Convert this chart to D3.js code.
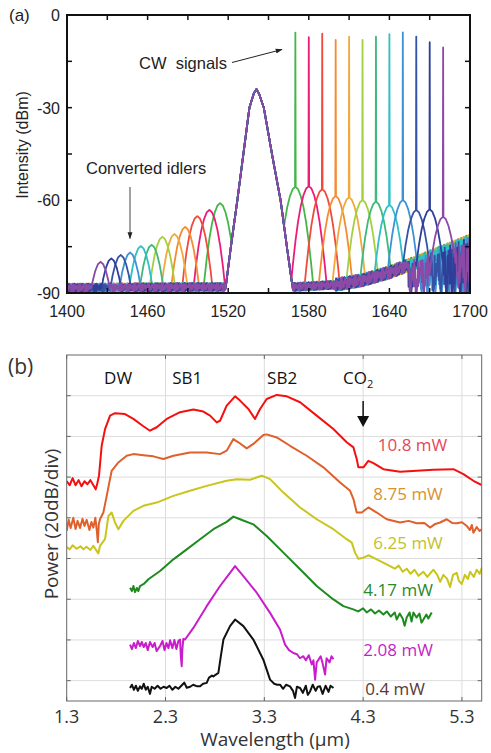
<!DOCTYPE html>
<html><head><meta charset="utf-8">
<script src="https://cdn.jsdelivr.net/npm/d3@7"></script>
<style>body{margin:0;background:#fff;} svg{display:block;}</style>
</head><body>
<svg id="chart" width="491" height="753"></svg>
<script>
// ================= Panel (a) data =================
const aColors = ["#44b649","#ec1c79","#f04a3c","#f58b31","#f2a93b","#a6cf3f","#3fb87a","#2ebfc7","#3f91d6","#3553a4","#2e3e99","#8a4aa5"];
const signalWl   = [1570,1580,1590,1600,1610,1620,1630,1640,1650,1660,1670,1680];
const signalPeak = [-5.7,-7.2,-6.0,-8.1,-7.0,-8.1,-7.0,-6.2,-5.6,-7.0,-8.8,-10.5];
const signalHump = [-55.6,-55.4,-56.4,-58.6,-59.0,-59.9,-60.4,-61.5,-59.9,-63.1,-62.9,-65.3];
const idlerWl    = [1514,1506,1497,1488,1480,1471,1463,1455,1447,1440,1433,1425];
const idlerPeak  = [-60.9,-63.1,-65.1,-68.6,-70.9,-71.8,-74.4,-74.8,-76.9,-77.7,-78.8,-79.9];
const pumpProfile = [[1517.6,-90],[1522,-75],[1526.8,-60],[1531,-46],[1535.8,-30],[1539,-25.5],[1541,-24],[1543,-25.5],[1546.5,-30],[1553,-46],[1559,-60],[1564,-76],[1568.5,-90]];
const peakDrop = [[0,0],[2,0.8],[4,3],[6,6.5],[8,11.5],[10,18],[12,26],[14,35],[17,50],[40,120]];
const floorProfile = [[1400,-88.3],[1500,-88],[1570,-88],[1600,-87.3],[1620,-85.8],[1640,-83.3],[1660,-80],[1680,-76.5],[1700,-73]];
const floorJitter = [0.3,-0.8,0.6,-0.2,0.9,-0.5,0.1,-1,0.7,-0.3,0.4,-0.9,0.2,0.8,-0.6,-0.1,0.5,-0.7,1,-0.4,0.0,0.6,-0.8,0.3,-0.2,0.9,-0.6,0.4,-1,0.7,-0.3,0.1,0.8,-0.5,0.2,-0.9,0.6,-0.1,0.4,-0.7,0.5];
const aXTicks = [1400,1460,1520,1580,1640,1700];
const aXMinor = [1430,1490,1550,1610,1670];
const aYTicks = [0,-30,-60,-90];
const aYMinor = [-15,-45,-75];

// ================= Panel (b) data =================
const bXTicks = [1.3,2.3,3.3,4.3,5.3];
const bYGrid = [0,20,40,60,80,100,120,140];
const bLabels = ["10.8 mW","8.75 mW","6.25 mW","4.17 mW","2.08 mW","0.4 mW"];
const bColors = ["#f50f0f","#e0602c","#c9c51a","#1f8a1f","#c91ccc","#111111"];
const bLabelColors = ["#e4485a","#d9922e","#c3c22a","#2a8a2a","#c21fc6","#5a3838"];
const trace10_8 = [[1.30,98],[1.33,96],[1.36,99.5],[1.39,96],[1.42,98.5],[1.45,95.5],[1.48,98],[1.51,96.5],[1.54,98.5],[1.57,96],[1.594,94],[1.61,97],[1.627,100.7],[1.654,115.4],[1.688,123.6],[1.739,130.2],[1.789,131.4],[1.89,131],[1.975,128.6],[2.076,125],[2.143,122.8],[2.211,124.5],[2.312,128.6],[2.447,131.9],[2.582,133.2],[2.683,132.2],[2.751,130.2],[2.818,126.9],[2.852,127.7],[2.919,135.1],[3.004,139.7],[3.054,137.6],[3.139,133.5],[3.206,128.6],[3.257,133.5],[3.324,138.4],[3.426,140.4],[3.527,139.7],[3.662,136.8],[3.83,130.2],[3.999,123.6],[4.134,117.1],[4.202,114.6],[4.235,108.9],[4.252,104.8],[4.303,104.8],[4.353,108],[4.404,106.9],[4.505,103.9],[4.674,102.6],[4.842,103.1],[5.011,103.6],[5.214,103.9],[5.315,101.5],[5.416,98.2],[5.50,96.1]];
const trace8_75 = [[1.30,73.6],[1.32,79],[1.34,75],[1.367,80],[1.39,74.5],[1.41,78.5],[1.435,75],[1.46,79.5],[1.48,76],[1.502,79],[1.53,74],[1.55,78],[1.57,75.2],[1.59,80],[1.604,74],[1.615,68],[1.625,77],[1.637,79.3],[1.671,82.6],[1.705,90.8],[1.755,103.1],[1.823,107.2],[1.907,110.5],[1.975,111.3],[2.076,110.8],[2.177,110.2],[2.278,108.9],[2.38,110.5],[2.548,112.1],[2.717,112.1],[2.852,111.3],[2.919,113],[2.987,118.7],[3.037,117.1],[3.122,114.1],[3.189,116.3],[3.29,120.7],[3.324,121],[3.426,119.5],[3.56,115.4],[3.729,110.5],[3.898,104.8],[4.067,97.4],[4.168,93.3],[4.202,89.2],[4.235,82.6],[4.286,82.6],[4.353,85.1],[4.438,82.6],[4.539,79.3],[4.674,77.7],[4.76,78.5],[4.842,77.3],[4.92,77.5],[4.977,75.2],[5.03,77],[5.079,77.7],[5.146,79.3],[5.2,77.5],[5.247,77.3],[5.30,77.8],[5.349,76],[5.38,74],[5.40,76.5],[5.416,72.7],[5.45,75.5],[5.48,73.5],[5.50,74.4]];
const trace6_25 = [[1.30,65.7],[1.33,64.5],[1.36,66.5],[1.40,64.8],[1.44,66],[1.47,64.5],[1.50,65.8],[1.54,64.2],[1.57,66.3],[1.60,64],[1.62,62.5],[1.637,66.2],[1.688,69.5],[1.722,80.9],[1.755,82.6],[1.789,77.7],[1.823,74.4],[1.874,78.5],[1.975,83.4],[2.076,85.9],[2.211,87.5],[2.38,90.8],[2.548,93.3],[2.717,95.7],[2.919,98.2],[3.021,99],[3.156,98.7],[3.274,100.7],[3.358,99],[3.493,92.4],[3.662,85.1],[3.83,79.3],[3.999,74.4],[4.134,69.5],[4.185,67.8],[4.218,62.9],[4.252,59.9],[4.303,60.4],[4.353,61.6],[4.438,59.6],[4.573,56.3],[4.62,55],[4.66,56.5],[4.70,53.5],[4.741,55],[4.78,52.5],[4.82,54.5],[4.86,51.5],[4.91,53.5],[4.95,51],[5.011,54.5],[5.05,52],[5.08,48.5],[5.112,52],[5.15,50],[5.18,46],[5.21,52],[5.247,53],[5.27,49],[5.298,47.5],[5.33,52],[5.36,50],[5.383,53.5],[5.42,51],[5.45,54.5],[5.48,52.5],[5.50,55.5]];
const trace4_17 = [[1.941,45.6],[1.96,44],[1.975,46.5],[1.992,43.5],[2.01,45.5],[2.025,44],[2.042,46.5],[2.08,47.5],[2.127,49.8],[2.245,53.9],[2.38,59.6],[2.515,64.5],[2.65,69.5],[2.785,74.4],[2.919,78],[2.987,80.6],[3.054,79.3],[3.189,76.8],[3.324,71.1],[3.493,62.9],[3.662,54.7],[3.83,46.5],[3.999,39.9],[4.1,36.6],[4.2,35],[4.25,34],[4.30,35.5],[4.336,33.5],[4.38,35],[4.42,33],[4.46,34.5],[4.505,32.5],[4.54,34],[4.58,31.5],[4.62,33.5],[4.64,30],[4.67,33],[4.70,30.5],[4.72,27],[4.741,31],[4.77,33.5],[4.79,29],[4.809,33.5],[4.84,31],[4.87,33],[4.89,28.5],[4.91,30],[4.94,32.5],[4.96,30.5],[4.994,33.5]];
const trace2_08 = [[1.941,17.7],[1.96,15.5],[1.98,18.5],[2.0,16],[2.02,19.5],[2.042,17],[2.06,19],[2.08,16.5],[2.10,18.5],[2.12,15],[2.143,19],[2.17,16.5],[2.19,18.5],[2.21,14.5],[2.245,17],[2.27,19.5],[2.29,15],[2.31,18.5],[2.33,16],[2.346,19.8],[2.37,16],[2.39,20],[2.41,15.5],[2.43,19.5],[2.447,20.2],[2.455,12],[2.464,7.1],[2.47,15],[2.48,20.5],[2.498,20.2],[2.582,25.9],[2.717,36.6],[2.852,46.5],[2.953,53],[3.004,56.3],[3.088,51.4],[3.223,43.2],[3.358,33.3],[3.459,25.1],[3.51,17.7],[3.55,15],[3.594,13.6],[3.63,13],[3.66,11],[3.695,12],[3.72,10],[3.75,12.5],[3.78,8],[3.797,10],[3.814,0.5],[3.83,9],[3.848,10.3],[3.87,12],[3.89,8.5],[3.915,3],[3.93,11],[3.96,9],[3.98,12],[4.0,10.5]];
const trace0_4 = [[1.941,-3.6],[1.96,-2],[1.98,-4.5],[2.0,-2.5],[2.02,-5],[2.042,-2.8],[2.06,-4],[2.08,-1.5],[2.10,-4.5],[2.12,-3],[2.143,-6.5],[2.16,-3],[2.19,-4],[2.22,-2.5],[2.25,-4],[2.28,-3],[2.312,-3.6],[2.34,-2.5],[2.37,-4.5],[2.40,-3],[2.43,-4],[2.46,-2.5],[2.49,-1],[2.515,-3.5],[2.55,-3],[2.58,-2],[2.62,-2.8],[2.65,-2.8],[2.68,-1.5],[2.717,-1.1],[2.74,1.5],[2.77,2.5],[2.785,2.1],[2.81,3],[2.835,3.8],[2.86,12],[2.886,20.2],[2.953,26.8],[3.004,30],[3.088,26.8],[3.189,20.2],[3.29,10.3],[3.358,0.5],[3.40,-1.5],[3.43,-2],[3.459,-2],[3.49,-4],[3.52,-2],[3.56,-2.8],[3.59,-5],[3.611,-8.5],[3.63,-3],[3.662,-3.6],[3.69,-6],[3.72,-2.5],[3.74,-7],[3.763,-5.3],[3.79,-2],[3.82,-5],[3.84,-3],[3.864,-2.8],[3.89,-6.5],[3.92,-2.5],[3.95,-5.5],[3.97,-2.5],[4.0,-3.6]];
const bTraces = [trace10_8, trace8_75, trace6_25, trace4_17, trace2_08, trace0_4];
const bLabelPos = [[4.80,113],[4.755,88.9],[4.755,64.8],[4.654,41.4],[4.654,12.1],[4.624,-7.1]]; // label baseline anchors (μm, dB)
const bTopLabels = [["DW",1.82],["SB1",2.52],["SB2",3.48],["CO",4.25]];

// ================= drawing =================
const svg = d3.select("#chart");
const interp = (prof, x) => {
  if (x <= prof[0][0]) return prof[0][1];
  for (let k = 1; k < prof.length; k++) {
    if (x <= prof[k][0]) {
      const [x0,y0] = prof[k-1], [x1,y1] = prof[k];
      return y0 + (y1-y0)*(x-x0)/(x1-x0);
    }
  }
  return prof[prof.length-1][1];
};

// ---- Panel (a)
const ax = d3.scaleLinear().domain([1400,1700]).range([67,470]);
const ay = d3.scaleLinear().domain([-90,0]).range([293,15]);
const fA = "'Liberation Sans', Arial, sans-serif";
svg.append("clipPath").attr("id","clipA").append("rect")
  .attr("x",67).attr("y",14).attr("width",403).attr("height",279);
const gA = svg.append("g").attr("clip-path","url(#clipA)");
const lineA = d3.line().x(d=>ax(d[0])).y(d=>ay(d[1]));
aColors.forEach((c,i) => {
  const pts = [];
  const N = floorJitter.length;
  for (let k = 0; k <= 1200; k++) {
    const lam = 1400 + k*0.25;
    const fl = interp(floorProfile, lam);
    const j = floorJitter[(k*7 + i*11) % N];
    let v;
    if (lam > 1654 && i >= 8) v = fl + 1 - (fl + 91) * Math.abs(j);
    else v = fl + j*(lam < 1600 ? 1.3 : 2.0);
    v = Math.max(v, idlerPeak[i] - interp(peakDrop, Math.abs(lam - idlerWl[i])));
    if (lam > 1517.6 && lam < 1568.5) v = Math.max(v, interp(pumpProfile, lam));
    v = Math.max(v, signalHump[i] - interp(peakDrop, Math.abs(lam - signalWl[i])));
    if (lam === signalWl[i]) v = signalPeak[i];
    pts.push([lam, v]);
  }
  gA.append("path").attr("d", lineA(pts)).attr("fill","none")
    .attr("stroke", c).attr("stroke-width", 1.8).attr("stroke-linejoin","round");
});
// frame & ticks
svg.append("rect").attr("x",67).attr("y",15).attr("width",403).attr("height",278)
  .attr("fill","none").attr("stroke","#111").attr("stroke-width",2);
[...aXTicks, ...aXMinor].forEach(t => {
  svg.append("line").attr("x1",ax(t)).attr("x2",ax(t)).attr("y1",293).attr("y2",288).attr("stroke","#111").attr("stroke-width",1.5);
  svg.append("line").attr("x1",ax(t)).attr("x2",ax(t)).attr("y1",15).attr("y2",20).attr("stroke","#111").attr("stroke-width",1.5);
});
[...aYTicks, ...aYMinor].forEach(t => {
  svg.append("line").attr("x1",67).attr("x2",72).attr("y1",ay(t)).attr("y2",ay(t)).attr("stroke","#111").attr("stroke-width",1.5);
  svg.append("line").attr("x1",470).attr("x2",465).attr("y1",ay(t)).attr("y2",ay(t)).attr("stroke","#111").attr("stroke-width",1.5);
});
aXTicks.forEach(t => svg.append("text").attr("x",ax(t)).attr("y",317).attr("text-anchor","middle")
  .attr("font-family",fA).attr("font-size",16).attr("fill","#222").text(t));
aYTicks.forEach(t => svg.append("text").attr("x",60).attr("y",ay(t)+6).attr("text-anchor","end")
  .attr("font-family",fA).attr("font-size",16).attr("fill","#222").text(t));
svg.append("text").attr("transform","translate(28,145) rotate(-90)").attr("text-anchor","middle")
  .attr("font-family",fA).attr("font-size",16).attr("fill","#222").text("Intensity (dBm)");
svg.append("text").attr("x",9).attr("y",21).attr("font-family",fA).attr("font-size",17).attr("fill","#222").text("(a)");
svg.append("text").attr("x",139).attr("y",69).attr("font-family",fA).attr("font-size",16.5).attr("fill","#222")
  .attr("xml:space","preserve").text("CW  signals");
svg.append("text").attr("x",86).attr("y",174).attr("font-family",fA).attr("font-size",16.5).attr("fill","#222").text("Converted idlers");
const defs = svg.append("defs");
defs.append("marker").attr("id","arrA").attr("viewBox","0 0 10 10").attr("refX",9).attr("refY",5)
  .attr("markerWidth",7).attr("markerHeight",7).attr("orient","auto")
  .append("path").attr("d","M0,1.5 L10,5 L0,8.5 Z").attr("fill","#222");
svg.append("line").attr("x1",232).attr("y1",62.5).attr("x2",282).attr("y2",49.5)
  .attr("stroke","#222").attr("stroke-width",1).attr("marker-end","url(#arrA)");
svg.append("line").attr("x1",130).attr("y1",187).attr("x2",130).attr("y2",238.5)
  .attr("stroke","#444").attr("stroke-width",1).attr("marker-end","url(#arrA)");

// ---- Panel (b)
const bx = d3.scaleLinear().domain([1.3,5.5]).range([66.7,481.7]);
const by = d3.scaleLinear().domain([-10,160]).range([701,355]);
const fB = "'Open Sans', 'Noto Sans', sans-serif";
bYGrid.forEach(t => svg.append("line").attr("x1",66.7).attr("x2",481.7).attr("y1",by(t)).attr("y2",by(t))
  .attr("stroke","#dcdcdc").attr("stroke-width",1));
bXTicks.slice(1).forEach(t => svg.append("line").attr("x1",bx(t)).attr("x2",bx(t)).attr("y1",355).attr("y2",701)
  .attr("stroke","#dcdcdc").attr("stroke-width",1));
svg.append("clipPath").attr("id","clipB").append("rect")
  .attr("x",66.7).attr("y",355).attr("width",415).attr("height",346);
const gB = svg.append("g").attr("clip-path","url(#clipB)");
const lineB = d3.line().x(d=>bx(d[0])).y(d=>by(d[1]));
bTraces.forEach((tr,i) => gB.append("path").attr("d",lineB(tr)).attr("fill","none")
  .attr("stroke",bColors[i]).attr("stroke-width",2).attr("stroke-linejoin","round"));
svg.append("rect").attr("x",66.7).attr("y",355).attr("width",415).attr("height",346)
  .attr("fill","none").attr("stroke","#666").attr("stroke-width",1);
bXTicks.forEach(t => {
  svg.append("line").attr("x1",bx(t)).attr("x2",bx(t)).attr("y1",701).attr("y2",697).attr("stroke","#666");
  svg.append("line").attr("x1",bx(t)).attr("x2",bx(t)).attr("y1",355).attr("y2",359).attr("stroke","#666");
  svg.append("text").attr("x",bx(t)).attr("y",723).attr("text-anchor","middle")
    .attr("font-family",fB).attr("font-size",18).attr("fill","#333").text(t.toFixed(1));
});
bYGrid.forEach(t => {
  svg.append("line").attr("x1",66.7).attr("x2",70.7).attr("y1",by(t)).attr("y2",by(t)).attr("stroke","#666");
  svg.append("line").attr("x1",481.7).attr("x2",477.7).attr("y1",by(t)).attr("y2",by(t)).attr("stroke","#666");
});
svg.append("text").attr("x",275).attr("y",746).attr("text-anchor","middle")
  .attr("font-family",fB).attr("font-size",19).attr("fill","#333").text("Wavelength (μm)");
svg.append("text").attr("transform","translate(58,524) rotate(-90)").attr("text-anchor","middle")
  .attr("font-family",fB).attr("font-size",19).attr("fill","#333").text("Power (20dB/div)");
svg.append("text").attr("x",8).attr("y",374).attr("font-family",fB).attr("font-size",21).attr("fill","#333").text("(b)");
bTopLabels.forEach(([s,x]) => {
  const t = svg.append("text").attr("x",bx(x)).attr("y",384).attr("text-anchor","middle")
    .attr("font-family",fB).attr("font-size",17).attr("fill","#111");
  t.append("tspan").text(s);
  if (s === "CO") t.append("tspan").attr("font-size",11).attr("dy",4).text("2");
});
svg.append("line").attr("x1",bx(4.3)).attr("x2",bx(4.3)).attr("y1",401).attr("y2",419)
  .attr("stroke","#111").attr("stroke-width",1.5);
svg.append("path").attr("d",`M${bx(4.3)-6},${416} L${bx(4.3)+6},${416} L${bx(4.3)},${427} Z`).attr("fill","#111");
bLabels.forEach((s,i) => svg.append("text").attr("x",bx(bLabelPos[i][0])).attr("y",by(bLabelPos[i][1]))
  .attr("text-anchor","middle").attr("font-family",fB).attr("font-size",17).attr("fill",bLabelColors[i]).text(s));
</script>
</body></html>
